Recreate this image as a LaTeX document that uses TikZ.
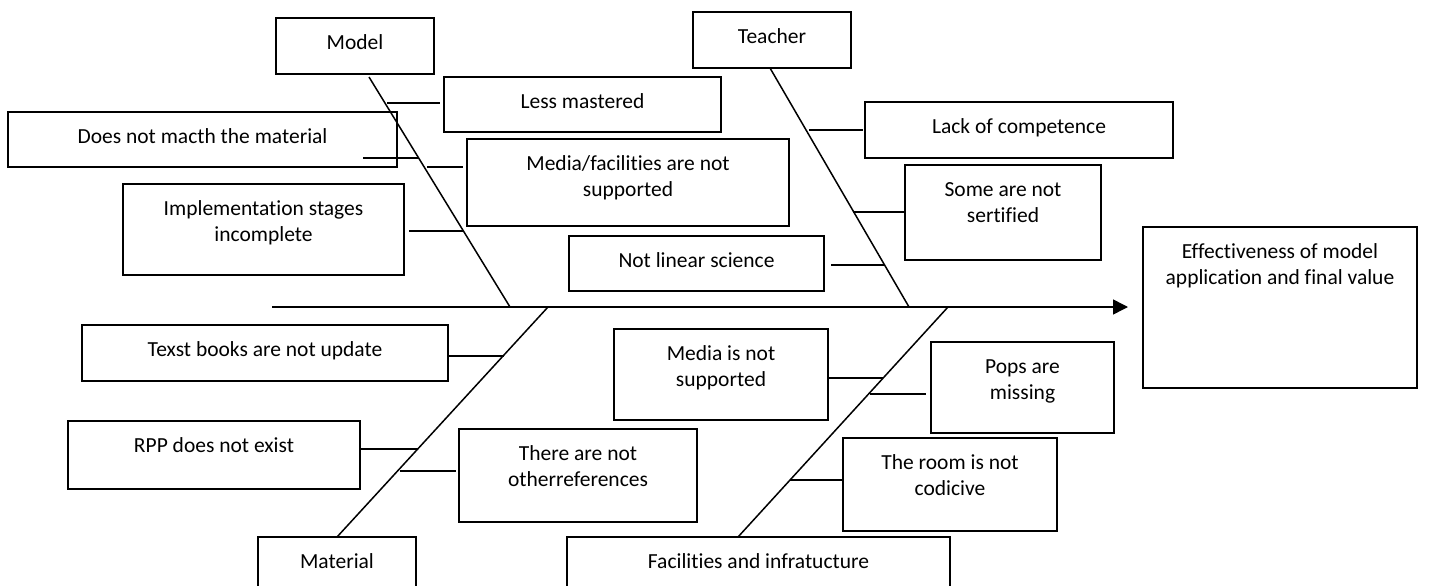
\documentclass[tikz,border=0pt]{standalone}
\usepackage{fontspec}
\setmainfont{Carlito}[Ligatures=NoCommon]
\usetikzlibrary{arrows.meta,fit,calc}
\tikzset{
  box/.style={draw, line width=1.5pt, inner sep=0pt, rectangle},
  txt/.style={anchor=north, inner sep=0pt, align=center, font=\fontsize{21.5}{26}\selectfont},
  ln/.style={line width=1.5pt},
}
% name, x1, y1, x2, y2, text
\newcommand\fbx[6]{%
  \coordinate (#1-a) at (#2,#3);
  \coordinate (#1-b) at (#4,#5);
  \node[box, fit=(#1-a)(#1-b)] (#1) {};
  \node[txt] (#1-t) at ($(#1.north)+(0,14)$) {\strut #6};
}
\begin{document}
\begin{tikzpicture}[x=1pt,y=-1pt]
\useasboundingbox (0,0) rectangle (1443,586);
% category boxes
\fbx{model}{276}{18}{434}{74}{Model}
\fbx{teacher}{693}{12}{851}{68}{Teacher}
\fbx{material}{258}{537}{416}{600}{Material}
\fbx{facil}{567}{537}{950}{600}{Facilities and infratucture}
% cause boxes
\fbx{lessm}{444}{77}{721}{132}{Less mastered}
\fbx{dnm}{8}{112}{397}{167}{Does not macth the material}
\fbx{mfns}{467}{139}{789}{226}{Media/facilities are not\\supported}
\fbx{impl}{123}{184}{404}{275}{Implementation stages\\incomplete}
\fbx{notlin}{569}{236}{824}{291}{Not linear science}
\fbx{lack}{865}{102}{1173}{158}{Lack of competence}
\fbx{some}{905}{165}{1101}{260}{Some are not\\sertified}
\fbx{eff}{1143}{227}{1417}{388}{Effectiveness of model\\application and final value}
\fbx{texst}{82}{325}{448}{381}{Texst books are not update}
\fbx{rpp}{68}{421}{360}{489}{RPP does not exist}
\fbx{other}{459}{429}{697}{522}{There are not\\otherreferences}
\fbx{mins}{614}{329}{828}{420}{Media is not\\supported}
\fbx{pops}{931}{342}{1114}{433}{Pops are\\missing}
\fbx{room}{843}{438}{1057}{531}{The room is not\\codicive}
% spine
\coordinate (s0) at (272,307);
\coordinate (s1) at (1128,307);
\draw[ln, -{Triangle[length=15pt,width=15pt]}] (s0) -- (s1);
% bones
\coordinate (m0) at (369,77);  \coordinate (m1) at (510,307);
\coordinate (t0) at (770,68);  \coordinate (t1) at (909,307);
\coordinate (a0) at (337,537); \coordinate (a1) at (548,307);
\coordinate (f0) at (738,537); \coordinate (f1) at (948,307);
\draw[ln] (m0) -- (m1);
\draw[ln] (t0) -- (t1);
\draw[ln] (a0) -- (a1);
\draw[ln] (f0) -- (f1);
% branches
\draw[ln] (387,103) -- (440,103);
\draw[ln] (363,158) -- (419,158);
\draw[ln] (427,167) -- (463,167);
\draw[ln] (409,231) -- (464,231);
\draw[ln] (809,130) -- (863,130);
\draw[ln] (853,212) -- (905,212);
\draw[ln] (831,265) -- (885,265);
\draw[ln] (448,356) -- (504,356);
\draw[ln] (360,449) -- (418,449);
\draw[ln] (400,471) -- (456,471);
\draw[ln] (828,378) -- (883,378);
\draw[ln] (870,394) -- (926,394);
\draw[ln] (790,480) -- (843,480);
\end{tikzpicture}
\end{document}
